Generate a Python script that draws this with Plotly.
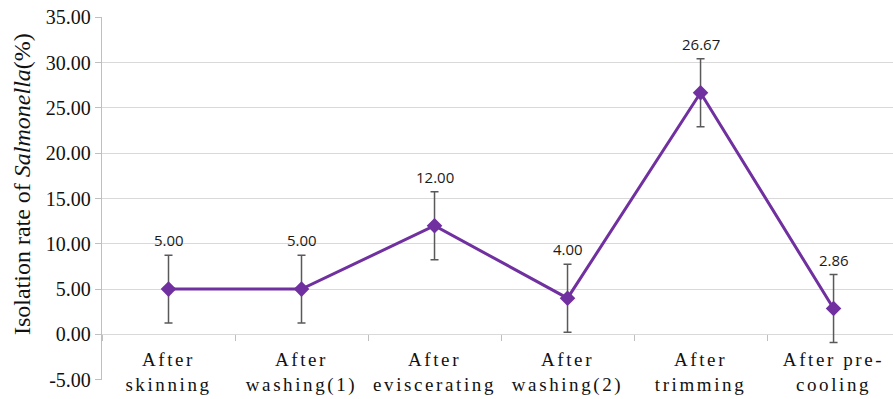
import plotly.graph_objects as go

categories = ["After skinning", "After washing(1)", "After eviscerating",
              "After washing(2)", "After trimming", "After pre-cooling"]
tick_labels = [["After", "skinning"], ["After", "washing(1)"], ["After", "eviscerating"],
               ["After", "washing(2)"], ["After", "trimming"], ["After pre-", "cooling"]]
isolation_rate = [5.00, 5.00, 12.00, 4.00, 26.67, 2.86]
error_values = [3.75, 3.75, 3.75, 3.75, 3.75, 3.75]
y_ticks = [-5, 0, 5, 10, 15, 20, 25, 30, 35]

PURPLE = "#7030A0"
GRID = "#D9D9D9"
AXIS = "#BFBFBF"

def spaced(s):
    return '<span style="letter-spacing:2.6px">' + s + '</span>'

ticktext = ["<br>".join(spaced(p) for p in parts) for parts in tick_labels]

pad = 0.03
y_range = [y_ticks[0] - pad, y_ticks[-1] + pad]
x_axis_pos = (0 - y_range[0]) / (y_range[1] - y_range[0])

fig = go.Figure()
fig.add_trace(go.Scatter(
    x=categories, y=isolation_rate, mode="lines+markers",
    line=dict(color=PURPLE, width=3),
    marker=dict(symbol="diamond", size=12, color=PURPLE),
    error_y=dict(type="data", array=error_values, symmetric=True,
                 color="#595959", thickness=1.5, width=4),
    showlegend=False, hoverinfo="skip",
))

for c, v, e in zip(categories, isolation_rate, error_values):
    fig.add_annotation(x=c, y=v + e, text=f"{v:.2f}", showarrow=False,
                       yanchor="bottom", yshift=3,
                       font=dict(family="Open Sans", size=15, color="#1a1a1a"))

fig.add_annotation(xref="paper", yref="paper", x=-0.101, y=0.54,
                   text="Isolation rate of <i>Salmonella</i>(%)", showarrow=False,
                   textangle=-90, xanchor="center", yanchor="middle",
                   font=dict(family="Liberation Serif", size=24, color="#111111"))

fig.update_layout(
    width=893, height=399,
    margin=dict(l=102, r=0, t=17, b=19, autoexpand=False),
    paper_bgcolor="white", plot_bgcolor="white",
    xaxis=dict(type="category", categoryorder="array", categoryarray=categories,
               range=[-0.5, 5.447], anchor="free", position=x_axis_pos, automargin=False,
               tickmode="array", tickvals=categories, ticktext=ticktext,
               tickson="boundaries", ticks="outside", ticklen=6, tickcolor=AXIS,
               ticklabelstandoff=12, ticklabeloverflow="allow",
               showgrid=False, showline=False, zeroline=False,
               tickfont=dict(family="Liberation Serif", size=19, color="#111111")),
    yaxis=dict(range=y_range, tickmode="array", tickvals=y_ticks, automargin=False,
               ticktext=[f"{t:.2f}" for t in y_ticks], ticklabeloverflow="allow",
               showgrid=True, gridcolor=GRID, gridwidth=1.3,
               zeroline=False, showline=True, linecolor=AXIS, linewidth=1.3,
               ticks="outside", ticklen=6, tickcolor=AXIS,
               tickfont=dict(family="Liberation Serif", size=20, color="#111111")),
)

fig.write_html("out.html", config={"displayModeBar": False},
               post_script="document.body.style.margin='0';document.body.style.overflow='hidden';")
